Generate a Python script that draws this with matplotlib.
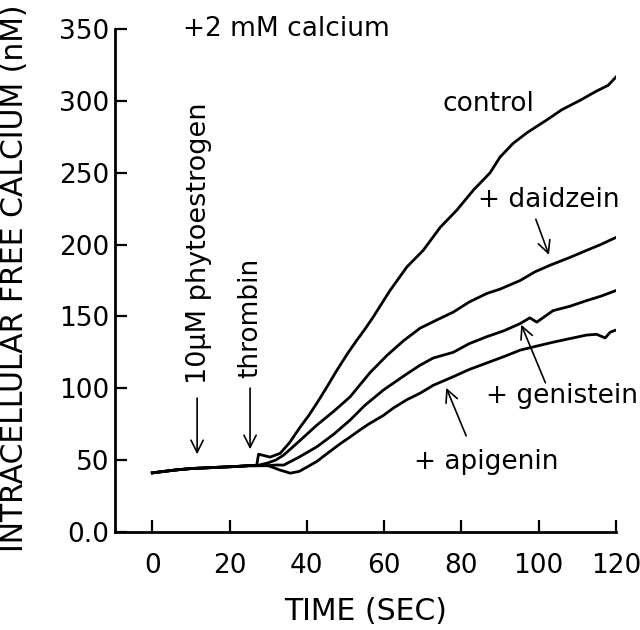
import matplotlib
matplotlib.use("Agg")
import matplotlib.pyplot as plt

plt.rcParams['font.family'] = ['DejaVu Sans']

# ---- data ----
base_t = [0, 3, 6, 10, 14, 18, 22, 25, 27]
base_y = [41, 42, 43, 44, 44.5, 45, 45.5, 46, 46]

control_t = base_t + [27.5, 29, 30.5, 33.1, 35.5, 38.3, 40.5, 42.6, 45, 47.8, 50.5, 52.9, 55, 57.2,
                      61.5, 65.9, 70.1, 74.5, 78.8, 83.1, 87.4, 90, 93.4, 97, 102, 106, 110.7,
                      115, 118, 120]
control_y = base_y + [54, 53, 52, 54.6, 62, 73, 81, 89.6, 100, 112.6, 124, 133.3, 141, 149.7,
                      168, 184.5, 196, 212, 224, 238, 250, 261, 270.6, 278, 286.7, 294, 300.5,
                      307, 311, 316.8]

daidzein_t = base_t + [30, 32, 34, 38, 42.6, 47, 51.2, 56.4, 60.8, 65, 69.3, 74, 77.9, 82,
                       86.6, 90, 95.2, 99, 102.9, 108, 112.4, 116, 120]
daidzein_y = base_y + [48, 50, 53.4, 63, 74.3, 84, 94, 111, 123, 133, 141.8, 148, 153, 160,
                       166, 169, 175, 181, 185.6, 191, 196, 200, 205]

genistein_t = base_t + [30, 32, 34, 38, 42.6, 47, 51.2, 55, 59.8, 65.9, 69.3, 72.7, 77.9, 82,
                        86.5, 91, 95.2, 97.7, 99.5, 103.7, 108, 112.4, 116, 120]
genistein_y = base_y + [46, 46.5, 46.4, 52, 59.2, 68, 77.8, 88, 98.7, 110, 116, 121, 125, 131,
                        135.8, 140, 145, 149, 146, 154, 157, 161, 164, 168]

apigenin_t = base_t + [30, 32, 33.1, 35.7, 38, 40, 42.6, 46, 49, 51.2, 53.8, 56, 59.8, 62.3,
                       65.9, 69.3, 72.7, 77.9, 82, 86.5, 91, 95.2, 99, 103.7, 108, 112.4, 115,
                       117.2, 118.5, 120]
apigenin_y = base_y + [46, 44, 42.9, 40.8, 42, 45, 49, 56, 62, 66, 71, 75, 81, 86,
                       92, 96.5, 102, 108, 113, 117.5, 122, 126.5, 129, 132, 134.5, 137, 137.5,
                       135, 139, 140.5]

x_ticks = [0, 20, 40, 60, 80, 100, 120]
y_ticks = [0, 50, 100, 150, 200, 250, 300, 350]
y_tick_labels = ['0.0', '50', '100', '150', '200', '250', '300', '350']

# ---- figure ----
fig = plt.figure(figsize=(6.4, 6.3), dpi=100)
ax = fig.add_axes([0.18, 0.156, 0.7825, 0.7975])

for t, y in [(control_t, control_y), (daidzein_t, daidzein_y),
             (genistein_t, genistein_y), (apigenin_t, apigenin_y)]:
    ax.plot(t, y, color='black', lw=2.0, solid_joinstyle='round')

ax.set_xlim(-9.6, 120)
ax.set_ylim(0, 350)
for s in ['top', 'right']:
    ax.spines[s].set_visible(False)
for s in ['left', 'bottom']:
    ax.spines[s].set_linewidth(2.0)

ax.set_xticks(x_ticks)
ax.set_yticks(y_ticks)
ax.set_yticklabels(y_tick_labels)
ax.tick_params(axis='both', direction='in', length=8.5, width=1.6, labelsize=19)
ax.tick_params(axis='x', pad=15)
ax.tick_params(axis='y', pad=4)

fig.text(365.5 / 640, 1 - 611 / 630, 'TIME (SEC)', fontsize=21.5, ha='center', va='center')
fig.text(15 / 640, 1 - 278 / 630, 'INTRACELLULAR FREE CALCIUM (nM)', fontsize=21.5,
         rotation=90, ha='center', va='center')

# annotations
ax.text(8, 350, '+2 mM calcium', fontsize=19, ha='left', va='center')
ax.text(86.9, 298, 'control', fontsize=19, ha='center', va='center')
ax.text(102.5, 231, '+ daidzein', fontsize=19, ha='center', va='center')
ax.text(106, 94.5, '+ genistein', fontsize=19, ha='center', va='center')
ax.text(86.4, 48.6, '+ apigenin', fontsize=19, ha='center', va='center')

ax.text(12, 103, '10\u03bcM phytoestrogen', fontsize=19.5, rotation=90, ha='center', va='bottom')
ax.text(25.3, 107, 'thrombin', fontsize=19, rotation=90, ha='center', va='bottom')

arrow = dict(arrowstyle='->', color='black', lw=1.2, mutation_scale=22)
ax.annotate('', xy=(11.6, 52), xytext=(11.6, 95), arrowprops=arrow)
ax.annotate('', xy=(25.3, 55.5), xytext=(25.3, 102), arrowprops=arrow)
ax.annotate('', xy=(102.9, 191), xytext=(99, 219.5), arrowprops=arrow)
ax.annotate('', xy=(95.2, 146), xytext=(102, 102), arrowprops=arrow)
ax.annotate('', xy=(75.8, 102), xytext=(81.5, 65), arrowprops=arrow)

fig.savefig('out.png', dpi=100)
